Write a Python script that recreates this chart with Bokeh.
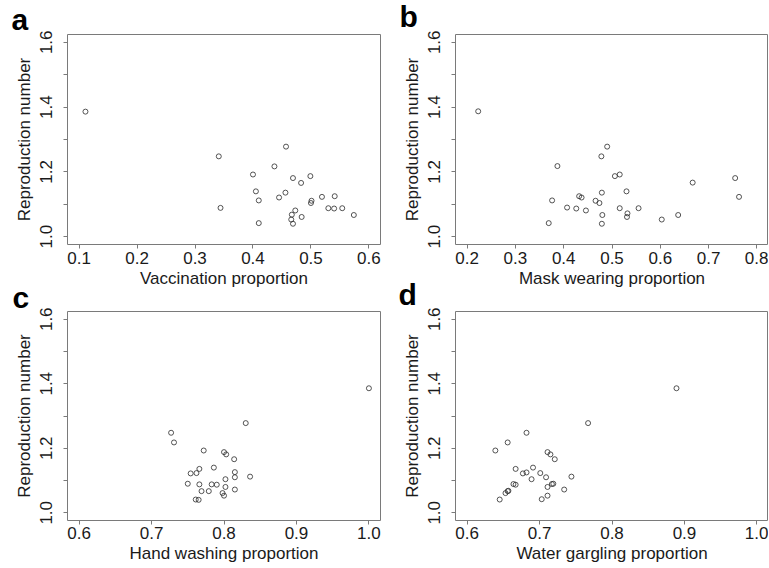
from bokeh.plotting import figure
from bokeh.layouts import column, row
from bokeh.models import Range1d, FixedTicker, NumeralTickFormatter, Title
from bokeh.embed import file_html
from bokeh.resources import INLINE

# ---- data ----
r_vacc = [1.386, 1.248, 1.089, 1.192, 1.140, 1.112, 1.042, 1.217, 1.121, 1.136,
          1.278, 1.181, 1.166, 1.187, 1.111, 1.104, 1.081, 1.068, 1.053, 1.040,
          1.061, 1.123, 1.125, 1.088, 1.087, 1.088, 1.067]
vaccination = [0.111, 0.341, 0.344, 0.400, 0.405, 0.410, 0.410, 0.437, 0.445, 0.456,
               0.457, 0.469, 0.483, 0.499, 0.501, 0.500, 0.473, 0.467, 0.466, 0.469,
               0.484, 0.519, 0.541, 0.530, 0.540, 0.554, 0.574]

r_mask = [1.387, 1.278, 1.248, 1.218, 1.187, 1.192, 1.140, 1.136, 1.125, 1.121,
          1.112, 1.111, 1.104, 1.090, 1.087, 1.081, 1.088, 1.088, 1.067, 1.072,
          1.061, 1.042, 1.040, 1.053, 1.067, 1.167, 1.181, 1.123]
mask = [0.223, 0.490, 0.478, 0.387, 0.506, 0.516, 0.530, 0.479, 0.432, 0.437,
        0.376, 0.466, 0.474, 0.407, 0.426, 0.446, 0.516, 0.555, 0.480, 0.532,
        0.531, 0.369, 0.479, 0.603, 0.637, 0.667, 0.755, 0.763]

r_hand = [1.386, 1.278, 1.248, 1.218, 1.193, 1.188, 1.181, 1.166, 1.140, 1.136,
          1.122, 1.123, 1.126, 1.110, 1.112, 1.090, 1.088, 1.088, 1.087, 1.104,
          1.080, 1.067, 1.067, 1.072, 1.061, 1.053, 1.041, 1.040]
hand = [1.000, 0.830, 0.727, 0.731, 0.772, 0.800, 0.803, 0.814, 0.786, 0.766,
        0.754, 0.762, 0.815, 0.815, 0.836, 0.750, 0.766, 0.783, 0.790, 0.802,
        0.802, 0.769, 0.779, 0.815, 0.798, 0.800, 0.761, 0.765]

r_garg = [1.386, 1.278, 1.248, 1.218, 1.193, 1.188, 1.181, 1.166, 1.140, 1.136,
          1.122, 1.125, 1.123, 1.110, 1.112, 1.104, 1.089, 1.087, 1.089, 1.090,
          1.080, 1.072, 1.067, 1.068, 1.061, 1.053, 1.041, 1.042]
gargling = [0.889, 0.767, 0.682, 0.656, 0.639, 0.711, 0.715, 0.721, 0.691, 0.667,
            0.677, 0.682, 0.701, 0.709, 0.744, 0.689, 0.664, 0.667, 0.717, 0.719,
            0.711, 0.734, 0.656, 0.657, 0.653, 0.711, 0.645, 0.703]

ticks_a = [0.1, 0.2, 0.3, 0.4, 0.5, 0.6]
ticks_b = [0.2, 0.3, 0.4, 0.5, 0.6, 0.7, 0.8]
ticks_cd = [0.6, 0.7, 0.8, 0.9, 1.0]
y_major = [1.0, 1.2, 1.4, 1.6]
y_minor = [1.1, 1.3, 1.5]

FONT = "Liberation Sans"
TXT = "#1a1a1a"
BOX = "#7a7a7a"


def panel(xs, ys, xticks, xlabel, letter, loff, lstand,
          fw, bl, br, bt, bb, fh, xstand, xlstand, transparent=False):
    lo, hi = xticks[0], xticks[-1]
    ext = (hi - lo) * 0.04
    p = figure(output_backend="svg", toolbar_location=None,
               frame_width=fw, frame_height=fh,
               min_border_left=bl, min_border_right=br,
               min_border_top=bt, min_border_bottom=bb,
               x_range=Range1d(lo - ext, hi + ext),
               y_range=Range1d(1.0 - 0.024, 1.6 + 0.024))
    p.background_fill_color = "white"
    p.border_fill_color = None if transparent else "white"
    p.outline_line_color = BOX
    p.outline_line_width = 1
    p.xgrid.visible = False
    p.ygrid.visible = False

    p.scatter(xs, ys, marker="circle", size=5, fill_color=None,
              line_color="#2a2a2a", line_width=0.8)

    for ax in (p.xaxis[0], p.yaxis[0]):
        ax.axis_line_color = None
        ax.major_tick_line_color = BOX
        ax.minor_tick_line_color = BOX
        ax.major_tick_in = 0
        ax.major_tick_out = 4
        ax.minor_tick_in = 0
        ax.major_label_text_font = FONT
        ax.major_label_text_font_size = "17px"
        ax.major_label_text_color = TXT
        ax.axis_label_text_font = FONT
        ax.axis_label_text_font_size = "17px"
        ax.axis_label_text_font_style = "normal"
        ax.axis_label_text_color = TXT
        ax.formatter = NumeralTickFormatter(format="0.0")

    p.xaxis[0].ticker = FixedTicker(ticks=xticks, minor_ticks=[])
    p.xaxis[0].minor_tick_out = 0
    p.xaxis[0].major_label_standoff = xstand
    p.xaxis[0].axis_label = xlabel
    p.xaxis[0].axis_label_standoff = xlstand

    p.yaxis[0].ticker = FixedTicker(ticks=y_major, minor_ticks=y_minor)
    p.yaxis[0].minor_tick_out = 4
    p.yaxis[0].major_label_orientation = "vertical"
    p.yaxis[0].major_label_standoff = 11
    p.yaxis[0].axis_label = "Reproduction number"
    p.yaxis[0].axis_label_standoff = 4

    p.add_layout(Title(text=letter, align="left", offset=loff, standoff=lstand,
                       vertical_align="bottom", text_font=FONT,
                       text_font_size="30px", text_font_style="bold",
                       text_color="black"), "above")
    return p


pa = panel(vaccination, r_vacc, ticks_a, "Vaccination proportion", "a", -56, -3,
           313, 67, 16, 44, 52, 210, 3, 2)
pb = panel(mask, r_mask, ticks_b, "Mask wearing proportion", "b", -56, 4,
           313, 59, 0, 44, 52, 210, 3, 2)
pc = panel(hand, r_hand, ticks_cd, "Hand washing proportion", "c", -55, -5,
           313, 67, 16, 46, 48, 209, 2, 2, transparent=True)
pd_ = panel(gargling, r_garg, ticks_cd, "Water gargling proportion", "d", -57, 1,
            313, 59, 0, 46, 48, 209, 2, 2, transparent=True)

top_row = row(pa, pb)
top_row.margin = (-10, 0, 0, 0)
bottom_row = row(pc, pd_)
bottom_row.margin = (-31, 0, 0, 0)
layout = column(top_row, bottom_row)
open("out.html", "w").write(file_html(layout, INLINE))
